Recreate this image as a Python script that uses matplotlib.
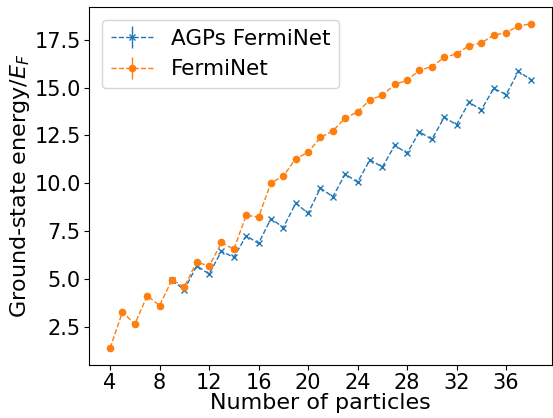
import numpy as np
import matplotlib
matplotlib.use("Agg")
import matplotlib.pyplot as plt

# ----------------------------
# Data
# ----------------------------
n_fn = list(range(4, 39))
e_fn = [1.39, 3.27, 2.64, 4.13, 3.61, 4.96, 4.58, 5.90, 5.66, 6.91,
        6.55, 8.33, 8.24, 10.02, 10.38, 11.29, 11.62, 12.40, 12.74, 13.41,
        13.73, 14.37, 14.60, 15.17, 15.38, 15.91, 16.10, 16.58, 16.77, 17.19,
        17.34, 17.74, 17.88, 18.23, 18.33]
fn_err = 0.03

n_agp = list(range(9, 39))
e_agp = [4.93, 4.44, 5.69, 5.26, 6.45, 6.13, 7.26, 6.86, 8.16, 7.69,
         8.96, 8.44, 9.75, 9.30, 10.48, 10.06, 11.23, 10.85, 11.98, 11.58,
         12.69, 12.30, 13.45, 13.06, 14.23, 13.85, 14.96, 14.64, 15.85, 15.42]
agp_err = 0.03

xticks = [4, 8, 12, 16, 20, 24, 28, 32, 36]

# ----------------------------
# Plot
# ----------------------------
fig = plt.figure(figsize=(5.53, 4.18), dpi=100)
ax = fig.add_axes([0.161, 0.127, 0.837, 0.856])

ax.errorbar(n_agp, e_agp, yerr=agp_err, fmt='--x', color='C0',
            markersize=5, linewidth=1, label='AGPs FermiNet')
ax.errorbar(n_fn, e_fn, yerr=fn_err, fmt='--o', color='C1',
            markersize=4.5, linewidth=1, label='FermiNet')

ax.set_xticks(xticks)
ax.tick_params(axis='both', labelsize=15, length=3.5, pad=2.5)
ax.set_xlabel("Number of particles", fontsize=16, labelpad=0)
ax.set_ylabel("Ground-state energy/$E_F$", fontsize=16, labelpad=2)

ax.legend(loc="upper left", fontsize=15.5, frameon=True,
          borderaxespad=0.6, handlelength=2.0)

fig.savefig("out.png", dpi=100)
